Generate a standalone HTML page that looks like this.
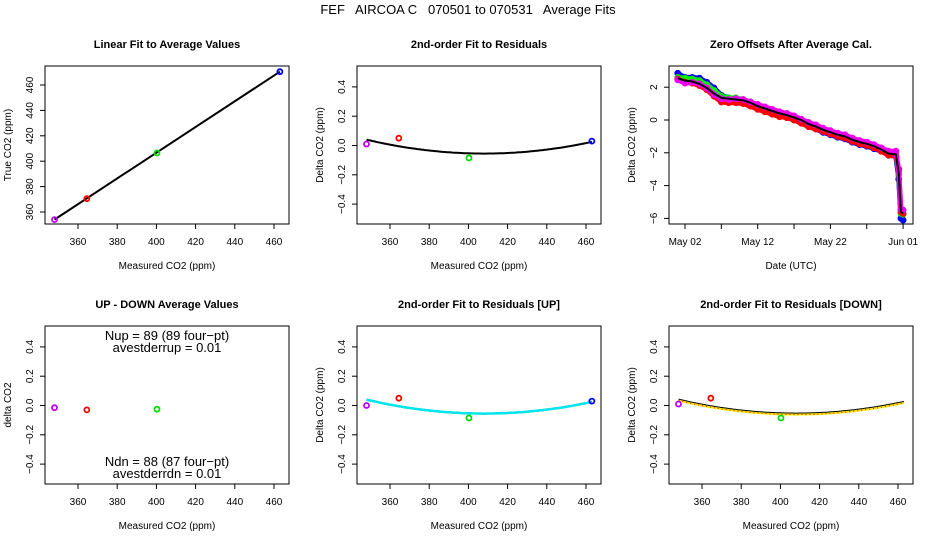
<!DOCTYPE html>
<html><head><meta charset="utf-8"><style>
body{margin:0;background:#fff;}
svg{display:block;font-family:"Liberation Sans",sans-serif;}
</style></head><body>
<svg id="c" width="936" height="540" xmlns="http://www.w3.org/2000/svg">
<text x="468" y="14" text-anchor="middle" font-size="13" style="white-space:pre" xml:space="preserve">FEF   AIRCOA C   070501 to 070531   Average Fits</text>
</svg>
<script>
// ---- data ----
const measured = [348, 364.5, 400.3, 463];
const trueCO2 = [354, 370.5, 406.5, 470.5];
const ptColors = ['#c000ff', '#ff0000', '#00dd00', '#0000ff'];
const resid = [0.01, 0.05, -0.085, 0.03];
const residUp = [0.0, 0.05, -0.085, 0.03];
const residDown = [0.01, 0.05, -0.085];
const upDown = [-0.015, -0.03, -0.025];
const fitVertex = [408, -0.055];
const fitCurv = [2.64e-5];
const xTicks = [360, 380, 400, 420, 440, 460];
const yTicksLin = [360, 380, 400, 420, 440, 460];
const yTicksRes = [-0.4, -0.2, 0.0, 0.2, 0.4];
const yTicksZero = [-6, -4, -2, 0, 2];
const days = [1,2,3,4,5,6,7,8,9,10,11,12,13,14,15,16,17,18,19,20,21,22,23,24,25,26,27,28,29,30,31,31.4,31.7,32];
const zeroMean = [2.55,2.4,2.35,2.2,1.95,1.6,1.35,1.3,1.25,1.2,1.05,0.85,0.7,0.55,0.4,0.3,0.15,0.0,-0.25,-0.4,-0.6,-0.75,-0.9,-1.0,-1.2,-1.35,-1.45,-1.6,-1.8,-2.05,-2.1,-3.2,-5.6,-5.7];
const zeroBlue = [2.85,2.6,2.6,2.55,2.3,1.95,1.5,1.35,1.25,1.15,0.95,0.7,0.55,0.4,0.25,0.15,0.0,-0.15,-0.4,-0.55,-0.75,-0.9,-1.05,-1.15,-1.35,-1.5,-1.6,-1.75,-1.9,-2.15,-2.2,-3.6,-6.0,-6.1];
const zeroGreen = [2.6,2.55,2.5,2.4,2.15,1.8,1.45,1.35,1.35,1.25,1.1,0.9,0.75,0.6,0.45,0.35,0.2,0.0,-0.2,-0.4,-0.55,-0.7,-0.85,-0.95,-1.15,-1.3,-1.4,-1.55,-1.75,-2.0,-2.05,-3.3,-5.7,-5.75];
const zeroRed = [2.5,2.3,2.25,2.1,1.85,1.45,1.1,1.05,1.05,1.0,0.85,0.65,0.5,0.35,0.2,0.15,0.0,-0.2,-0.4,-0.55,-0.7,-0.85,-1.0,-1.1,-1.3,-1.45,-1.55,-1.7,-1.9,-2.15,-2.2,-3.0,-5.6,-5.7];
const zeroMag = [2.45,2.25,2.3,2.2,1.95,1.55,1.3,1.25,1.3,1.25,1.1,0.95,0.8,0.65,0.5,0.4,0.25,0.05,-0.15,-0.3,-0.5,-0.65,-0.8,-0.9,-1.1,-1.25,-1.35,-1.5,-1.7,-1.9,-1.9,-3.1,-5.45,-5.5];
const dateTicks = [2, 7, 12, 17, 22, 27, 32];
const dateLabels = ['May 02', '', 'May 12', '', 'May 22', '', 'Jun 01'];

const svg = document.getElementById('c');
const NS = 'http://www.w3.org/2000/svg';
function mk(tag, attrs, parent) {
  const e = document.createElementNS(NS, tag);
  for (const k in attrs) e.setAttribute(k, attrs[k]);
  (parent || svg).appendChild(e);
  return e;
}
function fitVal(v) { return fitVertex[1] + fitCurv[0] * (v - fitVertex[0]) * (v - fitVertex[0]); }

function panel(name, L, T, title, xlab, ylab, yticks, yfun, xfun, xticks, xlabels) {
  const g = mk('g', {});
  
  
  const W = 244, H = 158, B = T + H;
  const t = mk('text', {x: L + W / 2, y: T - 18, 'text-anchor': 'middle', 'font-size': 11, 'font-weight': 'bold'}, g);
  t.textContent = title;
  
  
  const box = mk('rect', {x: L, y: T, width: W, height: H, fill: 'none', stroke: '#000', 'stroke-width': 1}, g);
  
  
  xticks.forEach((v, i) => {
    const x = xfun(v);
    mk('line', {x1: x, x2: x, y1: B, y2: B + 5, stroke: '#000'}, g);
    const lab = xlabels ? xlabels[i] : String(v);
    if (lab) {
      const tx = mk('text', {x: x, y: B + 21, 'text-anchor': 'middle', 'font-size': 10}, g);
      tx.textContent = lab;
      
      
    }
  });
  yticks.forEach(v => {
    const y = yfun(v);
    mk('line', {x1: L - 5, x2: L, y1: y, y2: y, stroke: '#000'}, g);
    const lab = Math.abs(v) < 5 && !Number.isInteger(v) || (v === 0 && yticks.includes(0.2)) ? v.toFixed(1).replace('-', '\u2212') : String(v).replace('-', '\u2212');
    const tx = mk('text', {x: L - 12, y: y, 'text-anchor': 'middle', 'font-size': 10, transform: `rotate(-90 ${L - 12} ${y})`}, g);
    tx.textContent = lab;
    
    
  });
  const xl = mk('text', {x: L + W / 2, y: B + 45, 'text-anchor': 'middle', 'font-size': 10}, g);
  xl.textContent = xlab;
  
  
  const yx = L - 34;
  const yl = mk('text', {x: yx, y: T + H / 2, 'text-anchor': 'middle', 'font-size': 10, transform: `rotate(-90 ${yx} ${T + H / 2})`}, g);
  yl.textContent = ylab;
  
  
  return g;
}
function pts(g, xs, ys, xfun, yfun, name) {
  xs.forEach((v, i) => {
    const c = mk('circle', {cx: xfun(v), cy: yfun(ys[i]), r: 2.5, fill: 'none', stroke: ptColors[i], 'stroke-width': 1.8}, g);
    
    
  });
}
function curve(g, xfun, yfun, color, w, dash, name) {
  let d = '';
  for (let v = 348; v <= 463; v += 1) d += (d ? 'L' : 'M') + xfun(v).toFixed(1) + ',' + yfun(fitVal(v)).toFixed(1);
  const p = mk('path', {d: d, fill: 'none', stroke: color, 'stroke-width': w}, g);
  if (dash) p.setAttribute('stroke-dasharray', dash);
  
  
}

const cols = [45, 357, 669];
const rowsT = [66, 326];
const xs = L => v => L + 33 + (v - 360) * 1.96;
const yRes = T => v => T + 79.5 - v * 146.5;

// Panel 1: linear fit
{
  const L = cols[0], T = rowsT[0];
  const xf = xs(L), yf = v => 212 - (v - 360) * 1.27;
  const g = panel('linear-fit-panel', L, T, 'Linear Fit to Average Values', 'Measured CO2 (ppm)', 'True CO2 (ppm)', yTicksLin, yf, xf, xTicks);
  const ln = mk('line', {x1: xf(measured[0]), y1: yf(trueCO2[0]), x2: xf(measured[3]), y2: yf(trueCO2[3]), stroke: '#000', 'stroke-width': 2}, g);
  
  
  pts(g, measured, trueCO2, xf, yf, 'cal-point');
}
// Panel 2: residual fit
{
  const L = cols[1], T = rowsT[0];
  const xf = xs(L), yf = yRes(T);
  const g = panel('residual-fit-panel', L, T, '2nd-order Fit to Residuals', 'Measured CO2 (ppm)', 'Delta CO2 (ppm)', yTicksRes, yf, xf, xTicks);
  curve(g, xf, yf, '#000', 2, null, 'residual-fit-curve');
  pts(g, measured, resid, xf, yf, 'residual-point');
}
// Panel 3: zero offsets
{
  const L = cols[2], T = rowsT[0];
  const xf = d => 685 + (d - 2) * 7.27, yf = v => 120 - v * 16.4;
  const g = panel('zero-offsets-panel', L, T, 'Zero Offsets After Average Cal.', 'Date (UTC)', 'Delta CO2 (ppm)', yTicksZero, yf, xf, dateTicks, dateLabels);
  const series = [[zeroBlue, '#0000ff'], [zeroGreen, '#00ee00'], [zeroRed, '#ff0000'], [zeroMag, '#ee00ee']];
  series.forEach(([arr, col], si) => {
    let d = '';
    days.forEach((dd, i) => d += (i ? 'L' : 'M') + xf(dd).toFixed(1) + ',' + yf(arr[i]).toFixed(1));
    const p = mk('path', {d: d, fill: 'none', stroke: col, 'stroke-width': 5, 'stroke-linejoin': 'round', 'stroke-linecap': 'round'}, g);
    
    
    days.forEach((dd, i) => {
      const c = mk('circle', {cx: xf(dd), cy: yf(arr[i]), r: 2.5, fill: 'none', stroke: col, 'stroke-width': 1.8}, g);
      
      
    });
  });
  let d = '';
  days.forEach((dd, i) => d += (i ? 'L' : 'M') + xf(dd).toFixed(1) + ',' + yf(zeroMean[i]).toFixed(1));
  const p = mk('path', {d: d, fill: 'none', stroke: '#000', 'stroke-width': 2}, g);
  
  
}
// Panel 4: up - down
{
  const L = cols[0], T = rowsT[1];
  const xf = xs(L), yf = yRes(T);
  const g = panel('up-down-panel', L, T, 'UP - DOWN Average Values', 'Measured CO2 (ppm)', 'delta CO2', yTicksRes, yf, xf, xTicks);
  pts(g, measured.slice(0, 3), upDown, xf, yf, 'updown-point');
  const lines = [['Nup = 89 (89 four\u2212pt)', 10], ['avestderrup =  0.01', 22], ['Ndn = 88 (87 four\u2212pt)', 136], ['avestderrdn =  0.01', 148]];
  lines.forEach(([s, dy]) => {
    const t = mk('text', {x: 167, y: T + dy + 4, 'text-anchor': 'middle', 'font-size': 13}, g);
    t.textContent = s;
    
    
  });
}
// Panel 5: residuals UP
{
  const L = cols[1], T = rowsT[1];
  const xf = xs(L), yf = yRes(T);
  const g = panel('residual-up-panel', L, T, '2nd-order Fit to Residuals [UP]', 'Measured CO2 (ppm)', 'Delta CO2 (ppm)', yTicksRes, yf, xf, xTicks);
  curve(g, xf, yf, '#000', 2, null, 'fit-curve-black');
  curve(g, xf, yf, '#00e5ee', 2.5, null, 'fit-curve-up');
  pts(g, measured, residUp, xf, yf, 'residual-up-point');
}
// Panel 6: residuals DOWN
{
  const L = cols[2], T = rowsT[1];
  const xf = xs(L), yf = yRes(T);
  const g = panel('residual-down-panel', L, T, '2nd-order Fit to Residuals [DOWN]', 'Measured CO2 (ppm)', 'Delta CO2 (ppm)', yTicksRes, yf, xf, xTicks);
  curve(g, xf, yf, '#000', 2, null, 'fit-curve-black');
  curve(g, xf, v => yf(v) + 1, '#ffee00', 2, null, 'fit-curve-down');
  curve(g, xf, v => yf(v) + 1, '#ff0000', 1, '1 3', 'fit-curve-down-dots');
  pts(g, measured.slice(0, 3), residDown, xf, yf, 'residual-down-point');
}
</script>
</body></html>
